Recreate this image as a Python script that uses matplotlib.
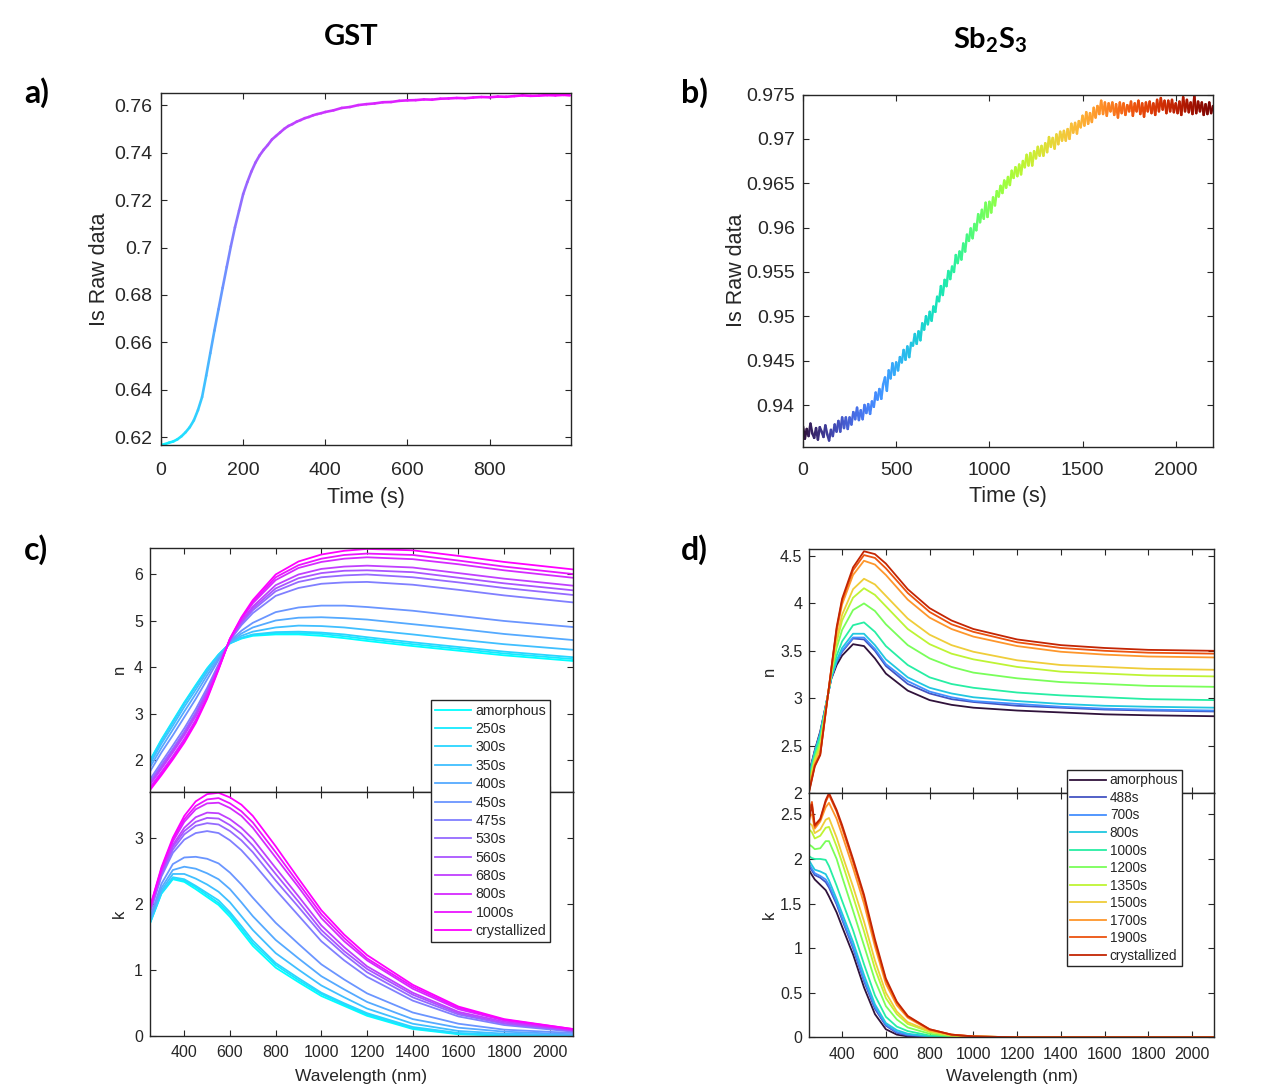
import numpy as np
import matplotlib
matplotlib.use("Agg")
import matplotlib.pyplot as plt
from matplotlib.collections import LineCollection
from matplotlib.lines import Line2D
from matplotlib.colors import Normalize
from matplotlib.ticker import FuncFormatter

plt.rcParams['font.family'] = ['Liberation Sans', 'DejaVu Sans']

# ---------------- panel a: GST Is raw data ----------------
T_A = [0, 10, 20, 30, 40, 50, 60, 70, 80, 90, 100, 110, 120, 130, 140, 150, 160, 170, 180, 190,
       200, 210, 220, 230, 240, 250, 260, 270, 280, 290, 300, 310, 320, 330, 340, 350, 360, 370, 380, 390,
       400, 420, 440, 460, 480, 500, 520, 540, 560, 580, 600, 620, 640, 660, 680, 700, 720, 740, 760, 780,
       800, 820, 840, 860, 880, 900, 920, 940, 960, 980, 995]
IS_A = [0.6168, 0.6172, 0.6178, 0.6183, 0.6192, 0.6205, 0.6222, 0.6243, 0.6272, 0.6315,
        0.6370, 0.6460, 0.6555, 0.6650, 0.6740, 0.6830, 0.6918, 0.7005, 0.7085, 0.7155,
        0.7225, 0.7275, 0.7320, 0.7358, 0.7388, 0.7412, 0.7432, 0.7455, 0.7470, 0.7485,
        0.7500, 0.7512, 0.7520, 0.7530, 0.7537, 0.7545, 0.7550, 0.7557, 0.7562, 0.7566,
        0.7571, 0.7578, 0.7588, 0.7592, 0.7600, 0.7604, 0.7607, 0.7612, 0.7613, 0.7618,
        0.7620, 0.7621, 0.7624, 0.7623, 0.7627, 0.7628, 0.7630, 0.7629, 0.7632, 0.7634,
        0.7633, 0.7636, 0.7635, 0.7638, 0.7641, 0.7639, 0.7640, 0.7642, 0.7641, 0.7643, 0.7641]

# ---------------- panel b: Sb2S3 Is raw data (10 s steps) ----------------
T_B = list(range(0, 2201, 10))
IS_B = [0.9376, 0.9362, 0.9373, 0.9365, 0.9379, 0.9368, 0.9363, 0.9374, 0.9361, 0.9375,
        0.9370, 0.9364, 0.9377, 0.9367, 0.9360, 0.9372,
        0.9365, 0.9378, 0.9370, 0.9382, 0.9370,
        0.9386, 0.9374, 0.9386, 0.9373, 0.9386,
        0.9378, 0.9392, 0.9384, 0.9397, 0.9383,
        0.9394, 0.9384, 0.9400, 0.9391, 0.9401,
        0.9390, 0.9404, 0.9398, 0.9414, 0.9406,
        0.9418, 0.9407, 0.9423, 0.9431, 0.9416,
        0.9439, 0.9430, 0.9447, 0.9434, 0.9448,
        0.9439, 0.9454, 0.9448, 0.9462, 0.9451,
        0.9466, 0.9454, 0.9470, 0.9467, 0.9480,
        0.9469, 0.9483, 0.9473, 0.9492, 0.9485,
        0.9500, 0.9491, 0.9505, 0.9495, 0.9511,
        0.9505, 0.9522, 0.9517, 0.9534, 0.9524,
        0.9541, 0.9534, 0.9551, 0.9542, 0.9556,
        0.9550, 0.9569, 0.9560, 0.9573, 0.9564,
        0.9582, 0.9573, 0.9592, 0.9585, 0.9599,
        0.9588, 0.9604, 0.9597, 0.9615, 0.9606,
        0.9620, 0.9610, 0.9628, 0.9612, 0.9629,
        0.9617, 0.9634, 0.9625, 0.9641, 0.9635,
        0.9647, 0.9639, 0.9653, 0.9645, 0.9657,
        0.9648, 0.9664, 0.9656, 0.9668, 0.9658,
        0.9671, 0.9660, 0.9675, 0.9668, 0.9682,
        0.9670, 0.9684, 0.9670, 0.9686, 0.9678,
        0.9691, 0.9681, 0.9692, 0.9681, 0.9695,
        0.9685, 0.9702, 0.9691, 0.9701, 0.9689,
        0.9705, 0.9694, 0.9708, 0.9698, 0.9709,
        0.9698, 0.9711, 0.9700, 0.9717, 0.9707,
        0.9718, 0.9706, 0.9720, 0.9713, 0.9726,
        0.9715, 0.9730, 0.9717, 0.9729, 0.9719,
        0.9735, 0.9724, 0.9737, 0.9728, 0.9743,
        0.9728, 0.9741, 0.9726, 0.9740, 0.9731,
        0.9741, 0.9727, 0.9739, 0.9724, 0.9741,
        0.9729, 0.9740, 0.9727, 0.9738, 0.9731,
        0.9742, 0.9726, 0.9740, 0.9731, 0.9743,
        0.9728, 0.9740, 0.9725, 0.9741, 0.9731,
        0.9742, 0.9729, 0.9740, 0.9727, 0.9744,
        0.9731, 0.9746, 0.9733, 0.9743, 0.9729,
        0.9743, 0.9731, 0.9744, 0.9730, 0.9740,
        0.9729, 0.9742, 0.9727, 0.9747, 0.9731,
        0.9744, 0.9730, 0.9741, 0.9728, 0.9748,
        0.9729, 0.9742, 0.9731, 0.9741, 0.9727,
        0.9739, 0.9728, 0.9741, 0.9729, 0.9737]

# ---------------- panel c: GST n, k ----------------
LABELS_C = ['amorphous', '250s', '300s', '350s', '400s', '450s', '475s', '530s',
            '560s', '680s', '800s', '1000s', 'crystallized']
WL_C = [250, 300, 350, 400, 450, 500, 550, 600, 650, 700, 800, 900, 1000, 1100, 1200, 1400, 1600, 1800, 2100]
N_C = [
    [2.00, 2.45, 2.85, 3.25, 3.62, 3.98, 4.28, 4.52, 4.62, 4.68, 4.71, 4.71, 4.68, 4.63, 4.57, 4.46, 4.36, 4.26, 4.14],
    [1.99, 2.43, 2.83, 3.23, 3.60, 3.97, 4.27, 4.52, 4.63, 4.70, 4.74, 4.74, 4.72, 4.67, 4.61, 4.50, 4.40, 4.30, 4.18],
    [1.97, 2.42, 2.82, 3.22, 3.59, 3.95, 4.27, 4.52, 4.64, 4.71, 4.76, 4.77, 4.75, 4.71, 4.65, 4.54, 4.44, 4.34, 4.22],
    [1.92, 2.36, 2.75, 3.15, 3.52, 3.90, 4.24, 4.53, 4.68, 4.77, 4.86, 4.90, 4.89, 4.86, 4.81, 4.71, 4.60, 4.50, 4.38],
    [1.85, 2.27, 2.66, 3.05, 3.43, 3.83, 4.20, 4.54, 4.73, 4.86, 5.01, 5.07, 5.08, 5.06, 5.03, 4.93, 4.83, 4.72, 4.59],
    [1.76, 2.17, 2.54, 2.93, 3.32, 3.74, 4.16, 4.56, 4.79, 4.96, 5.19, 5.29, 5.33, 5.33, 5.30, 5.22, 5.11, 5.00, 4.87],
    [1.59, 1.96, 2.32, 2.69, 3.10, 3.56, 4.07, 4.58, 4.91, 5.17, 5.54, 5.71, 5.80, 5.83, 5.84, 5.78, 5.67, 5.55, 5.40],
    [1.54, 1.90, 2.25, 2.62, 3.03, 3.50, 4.04, 4.59, 4.95, 5.23, 5.64, 5.84, 5.94, 5.98, 6.00, 5.94, 5.83, 5.71, 5.56],
    [1.51, 1.86, 2.21, 2.58, 2.99, 3.47, 4.03, 4.60, 4.97, 5.27, 5.70, 5.92, 6.03, 6.08, 6.09, 6.05, 5.93, 5.81, 5.66],
    [1.48, 1.82, 2.17, 2.54, 2.95, 3.44, 4.01, 4.60, 5.00, 5.31, 5.77, 6.00, 6.12, 6.17, 6.19, 6.15, 6.03, 5.91, 5.76],
    [1.42, 1.75, 2.09, 2.46, 2.87, 3.38, 3.98, 4.61, 5.04, 5.38, 5.88, 6.14, 6.27, 6.34, 6.37, 6.33, 6.22, 6.09, 5.93],
    [1.39, 1.72, 2.06, 2.42, 2.84, 3.35, 3.97, 4.62, 5.06, 5.41, 5.94, 6.20, 6.34, 6.42, 6.45, 6.42, 6.30, 6.17, 6.01],
    [1.36, 1.68, 2.02, 2.38, 2.80, 3.32, 3.95, 4.62, 5.08, 5.45, 6.00, 6.28, 6.43, 6.51, 6.55, 6.52, 6.40, 6.27, 6.11],
]
K_C = [
    [1.70, 2.15, 2.37, 2.33, 2.22, 2.10, 1.98, 1.80, 1.58, 1.36, 1.03, 0.81, 0.60, 0.45, 0.30, 0.10, 0.02, 0.00, 0.00],
    [1.71, 2.16, 2.38, 2.35, 2.25, 2.13, 2.01, 1.84, 1.62, 1.40, 1.07, 0.84, 0.63, 0.47, 0.32, 0.11, 0.03, 0.01, 0.00],
    [1.71, 2.17, 2.40, 2.37, 2.27, 2.16, 2.05, 1.87, 1.66, 1.44, 1.10, 0.87, 0.65, 0.49, 0.34, 0.13, 0.04, 0.01, 0.00],
    [1.73, 2.20, 2.45, 2.45, 2.38, 2.29, 2.18, 2.02, 1.81, 1.60, 1.25, 1.00, 0.76, 0.58, 0.41, 0.18, 0.07, 0.03, 0.01],
    [1.76, 2.24, 2.51, 2.56, 2.53, 2.46, 2.37, 2.22, 2.02, 1.81, 1.45, 1.17, 0.90, 0.70, 0.51, 0.25, 0.12, 0.06, 0.02],
    [1.79, 2.30, 2.60, 2.70, 2.71, 2.68, 2.61, 2.47, 2.29, 2.09, 1.71, 1.39, 1.08, 0.85, 0.64, 0.35, 0.18, 0.09, 0.04],
    [1.86, 2.41, 2.77, 2.97, 3.07, 3.10, 3.07, 2.96, 2.81, 2.62, 2.21, 1.82, 1.43, 1.14, 0.89, 0.53, 0.29, 0.16, 0.06],
    [1.88, 2.44, 2.82, 3.05, 3.18, 3.22, 3.20, 3.10, 2.96, 2.78, 2.35, 1.95, 1.54, 1.23, 0.96, 0.58, 0.32, 0.18, 0.07],
    [1.89, 2.46, 2.86, 3.10, 3.24, 3.30, 3.29, 3.19, 3.06, 2.88, 2.45, 2.03, 1.60, 1.28, 1.01, 0.62, 0.34, 0.19, 0.08],
    [1.91, 2.48, 2.89, 3.15, 3.31, 3.38, 3.37, 3.28, 3.15, 2.98, 2.54, 2.11, 1.67, 1.34, 1.05, 0.65, 0.36, 0.21, 0.08],
    [1.93, 2.51, 2.94, 3.24, 3.43, 3.52, 3.53, 3.45, 3.33, 3.15, 2.70, 2.25, 1.78, 1.43, 1.14, 0.71, 0.40, 0.23, 0.09],
    [1.94, 2.53, 2.97, 3.28, 3.48, 3.58, 3.60, 3.52, 3.40, 3.23, 2.78, 2.31, 1.84, 1.48, 1.17, 0.74, 0.42, 0.24, 0.10],
    [1.95, 2.55, 3.00, 3.33, 3.55, 3.66, 3.68, 3.61, 3.50, 3.33, 2.87, 2.38, 1.90, 1.53, 1.22, 0.77, 0.44, 0.25, 0.10],
]

# ---------------- panel d: Sb2S3 n, k ----------------
LABELS_D = ['amorphous', '488s', '700s', '800s', '1000s', '1200s', '1350s', '1500s',
            '1700s', '1900s', 'crystallized']
WL_DN = [250, 275, 300, 325, 350, 375, 400, 450, 500, 550, 600, 700, 800, 900, 1000, 1200, 1400, 1600, 1800, 2100]
N_D = [
    [2.22, 2.45, 2.65, 2.92, 3.20, 3.35, 3.45, 3.57, 3.55, 3.42, 3.26, 3.08, 2.98, 2.93, 2.90, 2.87, 2.85, 2.83, 2.82, 2.81],
    [2.21, 2.44, 2.63, 2.92, 3.21, 3.38, 3.49, 3.63, 3.62, 3.50, 3.34, 3.15, 3.05, 2.99, 2.96, 2.92, 2.90, 2.88, 2.87, 2.86],
    [2.20, 2.43, 2.63, 2.91, 3.21, 3.39, 3.50, 3.64, 3.64, 3.52, 3.36, 3.18, 3.07, 3.01, 2.97, 2.94, 2.91, 2.89, 2.88, 2.87],
    [2.19, 2.43, 2.62, 2.91, 3.21, 3.40, 3.53, 3.68, 3.68, 3.56, 3.41, 3.22, 3.11, 3.05, 3.01, 2.97, 2.94, 2.92, 2.91, 2.90],
    [2.17, 2.41, 2.59, 2.90, 3.23, 3.45, 3.60, 3.77, 3.80, 3.70, 3.55, 3.35, 3.22, 3.15, 3.11, 3.06, 3.03, 3.01, 2.99, 2.98],
    [2.13, 2.37, 2.54, 2.89, 3.25, 3.53, 3.72, 3.93, 4.00, 3.92, 3.78, 3.56, 3.42, 3.33, 3.27, 3.21, 3.17, 3.15, 3.13, 3.12],
    [2.10, 2.35, 2.50, 2.88, 3.26, 3.59, 3.82, 4.06, 4.16, 4.09, 3.97, 3.73, 3.57, 3.47, 3.41, 3.33, 3.28, 3.26, 3.24, 3.23],
    [2.08, 2.33, 2.47, 2.87, 3.27, 3.63, 3.88, 4.15, 4.26, 4.20, 4.08, 3.84, 3.67, 3.56, 3.49, 3.40, 3.35, 3.33, 3.31, 3.30],
    [2.04, 2.30, 2.42, 2.86, 3.29, 3.71, 3.99, 4.30, 4.45, 4.41, 4.30, 4.04, 3.85, 3.73, 3.65, 3.55, 3.49, 3.46, 3.44, 3.43],
    [2.03, 2.29, 2.41, 2.85, 3.30, 3.73, 4.03, 4.35, 4.51, 4.48, 4.37, 4.11, 3.91, 3.78, 3.70, 3.59, 3.53, 3.50, 3.48, 3.47],
    [2.02, 2.28, 2.40, 2.85, 3.30, 3.75, 4.05, 4.38, 4.55, 4.52, 4.42, 4.15, 3.95, 3.82, 3.73, 3.62, 3.56, 3.53, 3.51, 3.50],
]
WL_DK = [250, 262, 275, 300, 325, 340, 375, 400, 450, 500, 550, 600, 650, 700, 800, 900, 1000, 1200, 1600, 2100]
K_D = [
    [1.87, 1.82, 1.77, 1.71, 1.65, 1.58, 1.40, 1.24, 0.93, 0.56, 0.26, 0.09, 0.03, 0.01, 0.00, 0.00, 0.00, 0.00, 0.00, 0.00],
    [1.92, 1.87, 1.82, 1.79, 1.74, 1.68, 1.49, 1.32, 1.00, 0.63, 0.32, 0.13, 0.05, 0.02, 0.01, 0.00, 0.00, 0.00, 0.00, 0.00],
    [1.94, 1.89, 1.84, 1.81, 1.77, 1.71, 1.51, 1.34, 1.02, 0.65, 0.34, 0.14, 0.06, 0.03, 0.01, 0.00, 0.00, 0.00, 0.00, 0.00],
    [1.98, 1.93, 1.88, 1.86, 1.83, 1.76, 1.55, 1.39, 1.07, 0.70, 0.37, 0.16, 0.08, 0.04, 0.01, 0.00, 0.00, 0.00, 0.00, 0.00],
    [2.03, 2.01, 2.00, 2.00, 1.99, 1.92, 1.70, 1.53, 1.20, 0.82, 0.47, 0.23, 0.12, 0.07, 0.02, 0.01, 0.00, 0.00, 0.00, 0.00],
    [2.16, 2.14, 2.11, 2.12, 2.20, 2.20, 2.00, 1.80, 1.42, 1.03, 0.64, 0.35, 0.20, 0.11, 0.04, 0.01, 0.00, 0.00, 0.00, 0.00],
    [2.33, 2.30, 2.23, 2.26, 2.35, 2.36, 2.14, 1.96, 1.58, 1.19, 0.77, 0.44, 0.26, 0.15, 0.06, 0.02, 0.01, 0.00, 0.00, 0.00],
    [2.40, 2.38, 2.29, 2.33, 2.44, 2.46, 2.24, 2.05, 1.69, 1.30, 0.86, 0.50, 0.29, 0.17, 0.07, 0.02, 0.01, 0.00, 0.00, 0.00],
    [2.48, 2.50, 2.34, 2.42, 2.58, 2.63, 2.45, 2.27, 1.90, 1.50, 1.02, 0.60, 0.36, 0.22, 0.08, 0.03, 0.01, 0.00, 0.00, 0.00],
    [2.55, 2.64, 2.36, 2.44, 2.64, 2.72, 2.53, 2.35, 1.97, 1.57, 1.07, 0.64, 0.39, 0.23, 0.09, 0.03, 0.01, 0.00, 0.00, 0.00],
    [2.44, 2.61, 2.38, 2.45, 2.66, 2.74, 2.55, 2.38, 2.00, 1.60, 1.10, 0.66, 0.40, 0.24, 0.09, 0.03, 0.01, 0.00, 0.00, 0.00],
]

# ---------------- figure ----------------
W, H = 1265, 1090
fig = plt.figure(figsize=(W / 100, H / 100), dpi=100)
DARK = '#262626'


def px_axes(l, t, r, b):
    return fig.add_axes([l / W, 1 - b / H, (r - l) / W, (b - t) / H])


def style(ax, fs, xpad, ypad):
    for s in ax.spines.values():
        s.set_color(DARK)
        s.set_linewidth(1.0)
    ax.tick_params(direction='in', top=True, right=True, labelsize=fs,
                   colors=DARK, length=4.5, width=0.8)
    ax.tick_params(axis='x', pad=xpad)
    ax.tick_params(axis='y', pad=ypad)


gfmt = FuncFormatter(lambda v, p: '%g' % round(v, 4))


def gradient_line(ax, x, y, cnorm, cmap, lw):
    x = np.asarray(x, float)
    y = np.asarray(y, float)
    c = np.asarray(cnorm, float)
    pts = np.column_stack([x, y]).reshape(-1, 1, 2)
    segs = np.concatenate([pts[:-1], pts[1:]], axis=1)
    mids = np.clip(0.5 * (c[:-1] + c[1:]), 0, 1)
    lc = LineCollection(segs, colors=cmap(mids), linewidths=lw,
                        capstyle='round', joinstyle='round')
    ax.add_collection(lc)


# panel a: colour progresses from cyan to magenta along the trace
axa = px_axes(161, 93, 571, 445)
is_n = Normalize(min(IS_A), max(IS_A))(np.asarray(IS_A))
t_n = np.asarray(T_A, float) / max(T_A)
col_a = 0.5 * is_n + 0.5 * np.sqrt(t_n)
gradient_line(axa, T_A, IS_A, col_a, plt.cm.cool, 1.9)
axa.set_xlim(0, 998)
axa.set_ylim(0.6168, 0.7651)
axa.set_xticks([0, 200, 400, 600, 800])
axa.set_yticks([0.62, 0.64, 0.66, 0.68, 0.70, 0.72, 0.74, 0.76])
axa.yaxis.set_major_formatter(gfmt)
style(axa, 14, 12, 6)
axa.set_xlabel('Time (s)', fontsize=15.5, color=DARK, labelpad=6)
axa.set_ylabel('Is Raw data', fontsize=15.5, color=DARK, labelpad=3)

# panel b: colour follows time
axb = px_axes(803, 94.5, 1213, 446.7)
gradient_line(axb, T_B, IS_B, np.asarray(T_B, float) / max(T_B), plt.cm.turbo, 1.8)
axb.set_xlim(0, 2200)
axb.set_ylim(0.9353, 0.9750)
axb.set_xticks([0, 500, 1000, 1500, 2000])
axb.set_yticks([0.94, 0.945, 0.95, 0.955, 0.96, 0.965, 0.97, 0.975])
axb.yaxis.set_major_formatter(gfmt)
style(axb, 14, 11, 6)
axb.set_xlabel('Time (s)', fontsize=15.5, color=DARK, labelpad=5)
axb.set_ylabel('Is Raw data', fontsize=15.5, color=DARK, labelpad=-1)

# panel c
cols_c = [plt.cm.cool(i / (len(LABELS_C) - 1)) for i in range(len(LABELS_C))]
axcn = px_axes(150, 548, 572.7, 791.5)
axck = px_axes(150, 791.5, 572.7, 1035.6)
for i in range(len(LABELS_C)):
    axcn.plot(WL_C, N_C[i], color=cols_c[i], lw=1.3)
    axck.plot(WL_C, K_C[i], color=cols_c[i], lw=1.3)
for ax in (axcn, axck):
    ax.set_xlim(250, 2100)
    ax.set_xticks(range(400, 2001, 200))
    style(ax, 11.5, 7, 5)
axcn.set_ylim(1.33, 6.57)
axcn.set_yticks([2, 3, 4, 5, 6])
axcn.tick_params(labelbottom=False)
axck.set_ylim(0, 3.70)
axck.set_yticks([0, 1, 2, 3])
axcn.set_ylabel('n', fontsize=12, color=DARK, labelpad=5)
axck.set_ylabel('k', fontsize=12, color=DARK, labelpad=5)
axck.set_xlabel('Wavelength (nm)', fontsize=12.5, color=DARK, labelpad=6)

# panel d
cols_d = [plt.cm.turbo(i * 0.09) for i in range(len(LABELS_D))]
axdn = px_axes(809.3, 549, 1214, 793)
axdk = px_axes(809.3, 793, 1214, 1037.3)
for i in range(len(LABELS_D)):
    axdn.plot(WL_DN, N_D[i], color=cols_d[i], lw=1.3)
    axdk.plot(WL_DK, K_D[i], color=cols_d[i], lw=1.3)
for ax in (axdn, axdk):
    ax.set_xlim(250, 2100)
    ax.set_xticks(range(400, 2001, 200))
    style(ax, 11.5, 7, 5)
axdn.set_ylim(2, 4.574)
axdn.set_yticks([2, 2.5, 3, 3.5, 4, 4.5])
axdn.yaxis.set_major_formatter(gfmt)
axdn.tick_params(labelbottom=False)
axdk.set_ylim(0, 2.74)
axdk.set_yticks([0, 0.5, 1, 1.5, 2, 2.5])
axdk.yaxis.set_major_formatter(gfmt)
axdn.set_ylabel('n', fontsize=12, color=DARK, labelpad=2)
axdk.set_ylabel('k', fontsize=12, color=DARK, labelpad=2)
axdk.set_xlabel('Wavelength (nm)', fontsize=12.5, color=DARK, labelpad=5)


# legends
def make_legend(labels, cols, x, y, fs, spacing):
    handles = [Line2D([0], [0], color=c, lw=1.3) for c in cols]
    leg = fig.legend(handles, labels, loc='upper left', bbox_to_anchor=(x / W, 1 - y / H),
                     fontsize=fs, frameon=True, fancybox=False, framealpha=1,
                     edgecolor=DARK, borderpad=0.25, labelspacing=spacing,
                     handlelength=2.6, handletextpad=0.3, borderaxespad=0)
    leg.get_frame().set_linewidth(1.0)
    for t in leg.get_texts():
        t.set_color(DARK)
    return leg


make_legend(LABELS_C, cols_c, 431, 700, 10.2, 0.31)
make_legend(LABELS_D, cols_d, 1067, 770, 9.8, 0.26)

# titles and panel labels
tfont = dict(family=['Lato', 'DejaVu Sans'], fontweight='bold', fontsize=21, color='black')
fig.text(351 / W, 1 - 37 / H, 'GST', ha='center', va='center', **tfont)
fig.text(990 / W, 1 - 40 / H, r'Sb$_\mathregular{2}$S$_\mathregular{3}$', ha='center', va='center', **tfont)
lfont = dict(tfont, fontsize=23)
for lab, x, y in [('a)', 37, 93), ('b)', 694, 93), ('c)', 36, 550), ('d)', 694, 550)]:
    fig.text(x / W, 1 - y / H, lab, ha='center', va='center', **lfont)

fig.savefig('out.png', dpi=100)
